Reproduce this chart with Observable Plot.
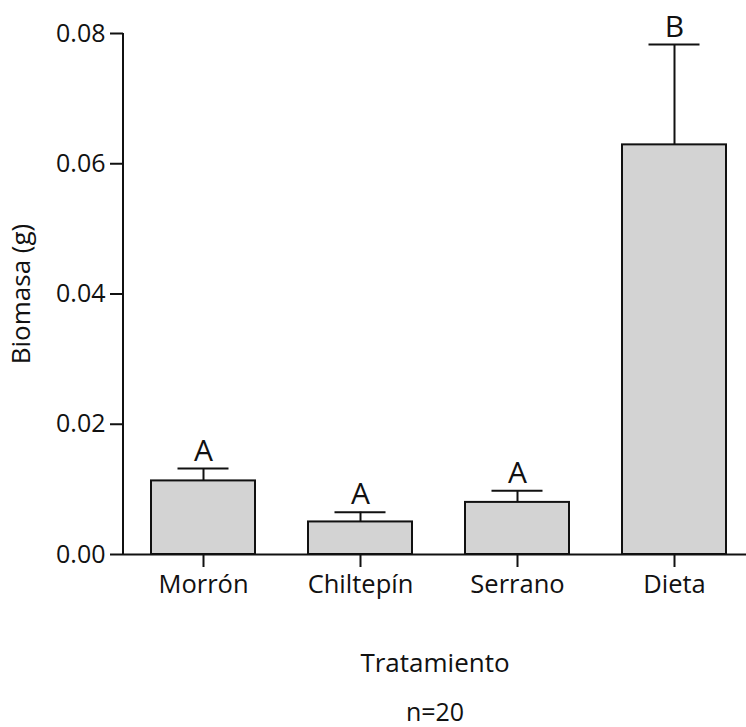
<!DOCTYPE html>
<html>
<head>
<meta charset="utf-8">
<script src="https://cdn.jsdelivr.net/npm/d3@7"></script>
<script src="https://cdn.jsdelivr.net/npm/@observablehq/plot@0.6"></script>
<style>
  body { margin: 0; background: #fff; }
</style>
</head>
<body>
<div id="chart"></div>
<script>
const categories = ["Morrón", "Chiltepín", "Serrano", "Dieta"];
const means = [0.0113, 0.0050, 0.0080, 0.0629];
const errTop = [0.0132, 0.0065, 0.0098, 0.0783];
const letters = ["A", "A", "A", "B"];
const yTicks = [0, 0.02, 0.04, 0.06, 0.08];

const data = categories.map((c, i) => ({cat: c, mean: means[i], top: errTop[i], letter: letters[i]}));

const font = "'Open Sans', 'Noto Sans', sans-serif";

const yAxisLine = (index, scales, values, dims) => {
  const line = document.createElementNS("http://www.w3.org/2000/svg", "line");
  line.setAttribute("x1", dims.marginLeft);
  line.setAttribute("x2", dims.marginLeft);
  line.setAttribute("y1", scales.y(0));
  line.setAttribute("y2", scales.y(0.08));
  line.setAttribute("stroke", "#111");
  line.setAttribute("stroke-width", 2);
  return line;
};

const chart = Plot.plot({
  width: 746,
  height: 727,
  marginLeft: 123,
  marginRight: 0,
  marginTop: 33,
  marginBottom: 173,
  style: {fontFamily: font, color: "#111", background: "#fff"},
  x: {domain: categories, range: [123, 754], paddingInner: 0.335, paddingOuter: 0.165},
  y: {domain: [0, 0.08]},
  marks: [
    Plot.barY(data, {x: "cat", y: "mean", fill: "#d3d3d3", stroke: "#111", strokeWidth: 2}),
    Plot.ruleX(data, {x: "cat", y1: "mean", y2: "top", stroke: "#111", strokeWidth: 2}),
    Plot.tickY(data, {x: "cat", y: "top", stroke: "#111", strokeWidth: 2, insetLeft: 26.5, insetRight: 26.5}),
    Plot.text(data, {x: "cat", y: "top", text: "letter", dy: -8, lineAnchor: "bottom", fontSize: 30, fill: "#111"}),
    Plot.ruleY([0], {stroke: "#111", strokeWidth: 2}),
    yAxisLine,
    Plot.axisY({ticks: yTicks, tickFormat: d3.format(".2f"), tickSize: 13, tickPadding: 5, fontSize: 25, strokeWidth: 2, label: "Biomasa (g)", labelAnchor: "center", labelArrow: "none", labelOffset: 112}),
    Plot.axisX({tickSize: 13, tickPadding: 7, fontSize: 25.5, strokeWidth: 2, label: "Tratamiento", labelAnchor: "center", labelArrow: "none", labelOffset: 117}),
    Plot.text(["n=20"], {frameAnchor: "bottom", dy: 166, fontSize: 25, fill: "#111"})
  ]
});

chart.querySelectorAll("g[aria-label='y-axis label'], g[aria-label='x-axis label']").forEach(g => {
  g.setAttribute("font-size", 26);
  g.querySelectorAll("text").forEach(t => t.setAttribute("font-size", 26));
});
document.getElementById("chart").appendChild(chart);
</script>
</body>
</html>
